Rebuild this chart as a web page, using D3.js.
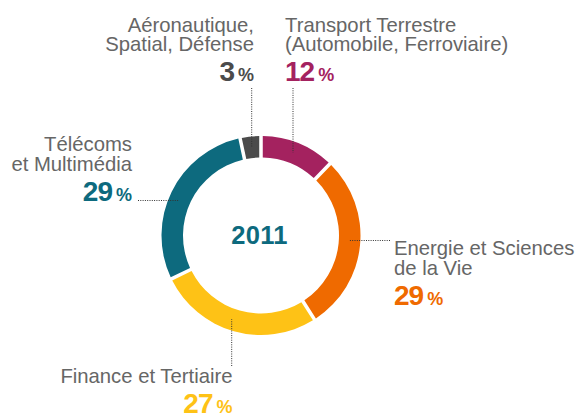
<!DOCTYPE html>
<html>
<head>
<meta charset="utf-8">
<script src="https://cdn.jsdelivr.net/npm/d3@7"></script>
<style>
  body { margin: 0; background: #fff; }
  text { font-family: "Liberation Sans", Arial, Helvetica, sans-serif; }
</style>
</head>
<body>
<svg id="chart" width="578" height="416"></svg>
<script>
// chart values
const sectors = ["Transport Terrestre", "Energie et Sciences", "Finance et Tertiaire", "Télécoms", "Aéronautique"];
const shares = [12, 29, 27, 29, 3];
const labelLines = [
  ["Transport Terrestre", "(Automobile, Ferroviaire)"],
  ["Energie et Sciences", "de la Vie"],
  ["Finance et Tertiaire"],
  ["Télécoms", "et Multimédia"],
  ["Aéronautique,", "Spatial, Défense"]
];
const colors = ["#a4225f", "#ef6a00", "#fec216", "#0d6a7e", "#4b4b4b"];
const year = "2011";

// label placement (layout only)
const layout = [
  { x: 285, y: 31.5, anchor: "start", lead: "v", lx: 293, l0: 88 },
  { x: 394, y: 255, anchor: "start", lead: "h", ly: 240.5, l0: 390 },
  { x: 232.5, y: 383, anchor: "end", lead: "v", lx: 231.7, l0: 366 },
  { x: 132, y: 151, anchor: "end", lead: "h", ly: 200.5, l0: 138 },
  { x: 254, y: 31.5, anchor: "end", lead: "v", lx: 251.7, l0: 88 }
];

const svg = d3.select("#chart");
const cx = 261, cy = 235.5, rOuter = 99.5, rInner = 78;
const rMid = (rOuter + rInner) / 2;
const lineH = 19.5;

const data = sectors.map((s, i) => ({ name: s, value: shares[i], i }));

const pie = d3.pie().sort(null).value(d => d.value).padAngle(0.028);
const arc = d3.arc().innerRadius(rInner).outerRadius(rOuter);

const g = svg.append("g").attr("transform", `translate(${cx},${cy})`);
g.selectAll("path")
  .data(pie(data))
  .join("path")
  .attr("d", arc)
  .attr("fill", d => colors[d.data.i]);

g.append("text")
  .attr("text-anchor", "middle")
  .attr("x", -1.5)
  .attr("y", 8)
  .attr("font-size", 25.5)
  .attr("font-weight", "bold")
  .attr("letter-spacing", 0.3)
  .attr("fill", colors[3])
  .text(year);

// leaders
const leaders = svg.append("g")
  .attr("stroke", "#333")
  .attr("stroke-width", 1)
  .attr("stroke-dasharray", "1,1.3")
  .attr("fill", "none");

layout.forEach((L, i) => {
  if (L.lead === "v") {
    const dx = L.lx - cx;
    const dy = Math.sqrt(rMid * rMid - dx * dx);
    const yEnd = L.l0 < cy ? cy - dy : cy + dy;
    leaders.append("line").attr("x1", L.lx).attr("x2", L.lx).attr("y1", L.l0).attr("y2", yEnd);
  } else {
    const dy = L.ly - cy;
    const dx = Math.sqrt(rMid * rMid - dy * dy);
    const xEnd = L.l0 < cx ? cx - dx : cx + dx;
    leaders.append("line").attr("y1", L.ly).attr("y2", L.ly).attr("x1", L.l0).attr("x2", xEnd);
  }
});

// labels
layout.forEach((L, i) => {
  const lines = labelLines[i];
  const t = svg.append("text")
    .attr("text-anchor", L.anchor)
    .attr("font-size", 20.3)
    .attr("fill", "#666");
  lines.forEach((ln, k) => {
    t.append("tspan").attr("x", L.x).attr("y", L.y + k * lineH).text(ln);
  });
  const pctY = L.y + (lines.length - 1) * lineH + 30;
  const p = svg.append("text")
    .attr("text-anchor", L.anchor)
    .attr("x", L.x)
    .attr("y", pctY)
    .attr("font-weight", "bold")
    .attr("fill", colors[i]);
  p.append("tspan").attr("font-size", 28).attr("letter-spacing", -1).text(shares[i]);
  p.append("tspan").attr("font-size", 18).attr("dx", 4).text("%");
});
</script>
</body>
</html>
